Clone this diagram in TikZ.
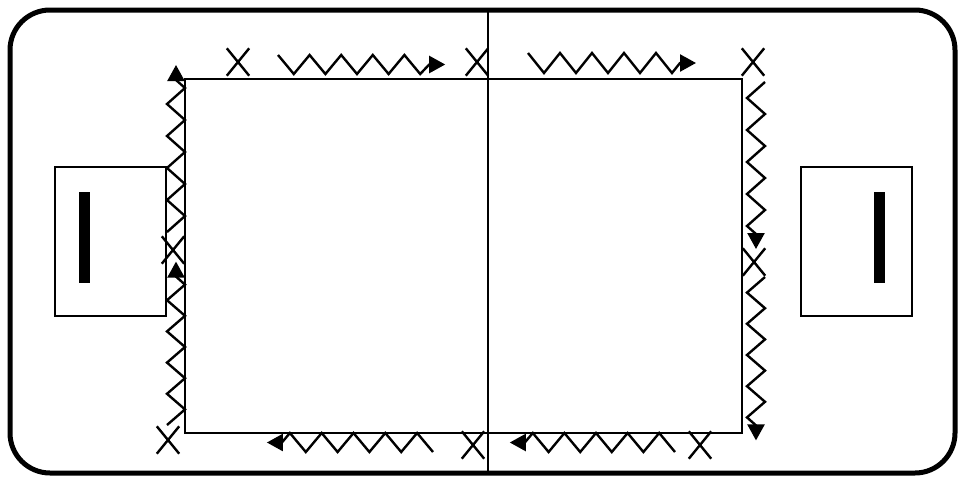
\documentclass[tikz,border=0pt]{standalone}
\usetikzlibrary{positioning,arrows.meta,shapes.misc}
\tikzset{>={Triangle[length=16pt,width=17pt]}}

\begin{document}
\begin{tikzpicture}[
    x=1pt, y=-1pt,
    board/.style={line width=5pt, rounded corners=40pt},
    rink/.style={line width=2.5pt},
    run/.style={line width=2.4pt},
    player/.style={cross out, draw, line width=2.4pt, minimum width=20pt, minimum height=25pt, inner sep=0pt},
    goal/.style={rectangle, draw, line width=1.8pt, minimum width=111pt, minimum height=149pt},
    bar/.style={rectangle, fill=black, minimum width=11pt, minimum height=91pt, inner sep=0pt}
]
\useasboundingbox (0,0) rectangle (959,477);

\draw[board] (10,10) rectangle (955,473);

\coordinate (nw) at (185,79);
\coordinate (se) at (742,433);
\coordinate (ctop) at (488,10);
\coordinate (cbot) at (488,473);
\draw[rink] (nw) rectangle (se);
\draw[rink] (ctop) -- (cbot);

\node[goal] (goalL) at (110.5,241.5) {};
\node[goal] (goalR) at (856.5,241.5) {};
\node[bar] (barL) at (84.5,237.5) {};
\node[bar] (barR) at (879.5,237.5) {};

\node[player] (p1) at (238,62) {};
\node[player] (p2) at (477,62) {};
\node[player] (p3) at (753,62) {};
\node[player] (p4) at (754,262) {};
\node[player] (p5) at (700,445) {};
\node[player] (p6) at (473,445) {};
\node[player] (p7) at (168,440) {};
\node[player] (p8) at (173,250) {};

\coordinate (topL) at (278,55);
\coordinate (topR) at (528,53);
\coordinate (sideR1) at (765,82);
\coordinate (sideR2) at (765,277);
\coordinate (botR) at (675,452);
\coordinate (botL) at (433,452);
\coordinate (sideL1) at (167,425);
\coordinate (sideL2) at (167,232);

\draw[run,->] (topL) \foreach \i in {1,...,4} { -- ++(15.8,19) -- ++(15.8,-19) }
    -- ++(15.8,19) -- ++(9,-9.5) -- ++(16,0);
\draw[run,->] (topR) \foreach \i in {1,...,4} { -- ++(16,20) -- ++(16,-20) }
    -- ++(16,20) -- ++(8,-10) -- ++(16,0);
\draw[run,->] (sideR1) \foreach \i in {1,...,4} { -- ++(-18,16) -- ++(18,16) }
    -- ++(-18,16) -- ++(9,8) -- ++(0,15);
\draw[run,->] (sideR2) \foreach \i in {1,...,4} { -- ++(-18,15.6) -- ++(18,15.6) }
    -- ++(-18,15.6) -- ++(9,8) -- ++(0,15);
\draw[run,->] (botR) \foreach \i in {1,...,4} { -- ++(-15.8,-19) -- ++(-15.8,19) }
    -- ++(-15.8,-19) -- ++(-8,9.5) -- ++(-15,0);
\draw[run,->] (botL) \foreach \i in {1,...,4} { -- ++(-15.9,-19) -- ++(-15.9,19) }
    -- ++(-15.9,-19) -- ++(-8,9.5) -- ++(-15,0);
\draw[run,->] (sideL1) \foreach \i in {1,...,4} { -- ++(18,-15.6) -- ++(-18,-15.6) }
    -- ++(18,-15.6) -- ++(-9,-8) -- ++(0,-15);
\draw[run,->] (sideL2) \foreach \i in {1,...,4} { -- ++(18,-16) -- ++(-18,-16) }
    -- ++(18,-16) -- ++(-9,-8) -- ++(0,-15);
\end{tikzpicture}
\end{document}
